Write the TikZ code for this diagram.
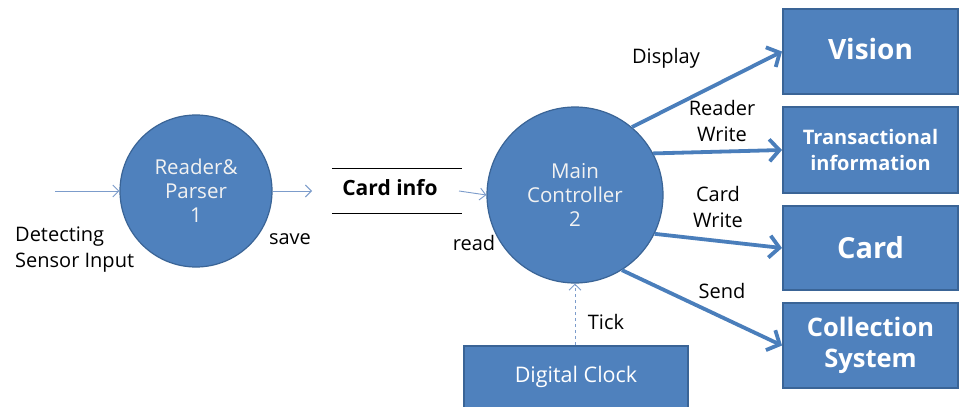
\documentclass[tikz,border=0pt]{standalone}
\usepackage{fontspec}
\setmainfont{Open Sans}
\usetikzlibrary{arrows.meta}
\definecolor{fillblue}{HTML}{4F81BD}
\definecolor{edgeblue}{HTML}{3A6496}
\definecolor{thinblue}{HTML}{7C9CCB}
\definecolor{thickblue}{HTML}{4A7EBB}
\definecolor{lighttext}{HTML}{F2F2F2}
\tikzset{
  proc/.style={circle, fill=fillblue, draw=edgeblue, line width=1.2pt, minimum size=176pt, inner sep=0pt, align=center, text=lighttext, font=\fontsize{20.5}{24}\selectfont},
  ext/.style={rectangle, fill=fillblue, draw=edgeblue, line width=2pt, inner sep=0pt, align=center, text=white, font=\bfseries\fontsize{20}{26}\selectfont},
  thinarrow/.style={draw=thinblue, line width=0.9pt, -{Straight Barb[length=6pt,width=12pt]}},
  thickarrow/.style={draw=thickblue, line width=3.8pt, -{Straight Barb[length=10pt,width=22pt]}},
  lbl/.style={inner sep=0pt, align=center, text=black, font=\fontsize{20}{26}\selectfont}
}
\begin{document}
\begin{tikzpicture}[x=1pt,y=-1pt]
\useasboundingbox[fill=white] (0,0) rectangle (959,407);
% processes
\node[proc, minimum size=152pt] (rp) at (196,191) {Reader\&\\Parser\\1};
\node[proc] (mc) at (575,195) {Main\\Controller\\2};
% externals
\node[ext, minimum width=175pt, minimum height=85pt, anchor=north west, font=\bfseries\fontsize{28}{30}\selectfont] (vision) at (782,8) {\raisebox{6pt}{Vision}};
\node[ext, minimum width=175pt, minimum height=86pt, anchor=north west] (trans) at (782,106) {Transactional\\information};
\node[ext, minimum width=175pt, minimum height=84pt, anchor=north west, font=\bfseries\fontsize{29}{30}\selectfont] (card) at (782,205) {Card};
\node[ext, minimum width=175pt, minimum height=85pt, anchor=north west, font=\bfseries\fontsize{25.5}{31}\selectfont] (coll) at (782,302) {Collection\\System};
\node[ext, minimum width=224pt, minimum height=62pt, anchor=north west, font=\fontsize{21.5}{24}\selectfont] (clock) at (463,345) {Digital Clock};
% data store
\node[minimum width=130pt, minimum height=44pt, inner sep=0pt] (ci) at (397,191) {};
\node[inner sep=0pt, font=\bfseries\fontsize{21}{24}\selectfont] (citext) at (390,188) {Card info};
\draw[line width=1.2pt] (ci.north west) -- (ci.north east);
\draw[line width=1.2pt] (ci.south west) -- (ci.south east);
% inputs
\coordinate (in) at (55,191);
\draw[thinarrow] (in) -- (rp.west);
\coordinate (saveend) at (312,191);
\draw[thinarrow] (rp.east) -- (saveend);
\coordinate (readstart) at (459,191);
\draw[thinarrow] (readstart) -- (mc.west);
\draw[thinarrow, dashed] (clock.north -| mc.south) -- (mc.south);
% outputs
\draw[thickarrow] (mc.50) -- (vision.west);
\draw[thickarrow] (mc.28) -- (trans.west);
\draw[thickarrow] (mc.-26) -- (card.west);
\draw[thickarrow] (mc.-58) -- (coll.west);
% labels
\node[lbl, align=left, anchor=north west] (det) at (15,227) {Detecting\\Sensor Input};
\node[lbl] (save) at (290,239) {save};
\node[lbl] (read) at (474,243) {read};
\node[lbl] (disp) at (666,58) {Display};
\node[lbl] (rw) at (722,121) {Reader\\Write};
\node[lbl] (cw) at (718,207) {Card\\Write};
\node[lbl] (send) at (722,291) {Send};
\node[lbl] (tick) at (606,322) {Tick};
\end{tikzpicture}
\end{document}
